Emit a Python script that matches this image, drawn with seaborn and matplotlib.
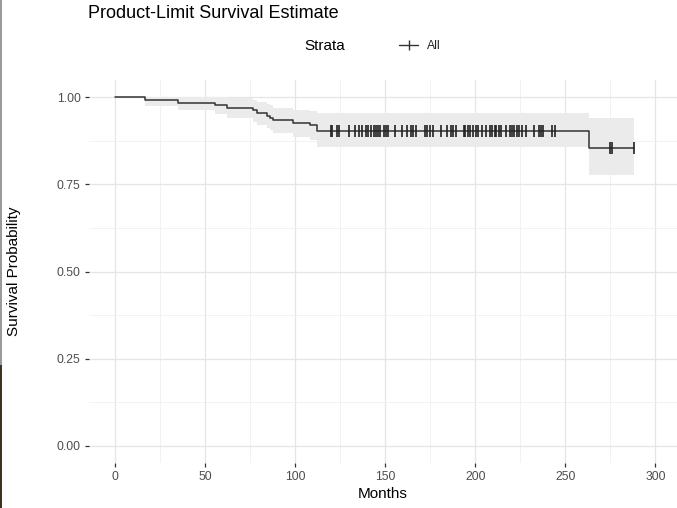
import numpy as np
import matplotlib
matplotlib.use("Agg")
import matplotlib.pyplot as plt
from matplotlib.lines import Line2D
from matplotlib.patches import Rectangle
import seaborn as sns

# Kaplan-Meier steps (months, estimate, lower CI, upper CI)
event_months = [0, 16.7, 34.8, 55.6, 62.0, 76.8, 78.7, 84.3, 86.1, 87.9, 99.0, 108.3, 112.0, 263.0, 288.0]
survival = [1.0, 0.9914, 0.9848, 0.977, 0.970, 0.9626, 0.956, 0.948, 0.942, 0.934, 0.926, 0.920, 0.904, 0.854, 0.854]
lower_ci = [1.0, 0.975, 0.963, 0.952, 0.942, 0.930, 0.922, 0.913, 0.905, 0.897, 0.887, 0.879, 0.857, 0.776, 0.776]
upper_ci = [1.0, 1.0, 1.0, 1.0, 0.998, 0.993, 0.988, 0.982, 0.977, 0.970, 0.965, 0.961, 0.954, 0.940, 0.940]

# censored observations (months)
censored_months = [119.8, 120.5, 123.5, 124.2, 130, 133.3, 135.6, 137.4, 139.1, 140.6, 142, 143.9, 144.8,
                   145.9, 146.9, 149.6, 150.6, 151.5, 155.7, 159.4, 161.9, 164.1, 165.7, 166.9,
                   171.9, 173.1, 175, 176.3, 180.9, 184.4, 186.7, 187.6, 189.3, 193.5, 194.4,
                   196.1, 197, 198.9, 200.4, 201.5, 203.9, 205.9, 208.3, 209.3, 210.9, 211.7,
                   213.3, 214.3, 217, 219.4, 220.4, 221.3, 223.1, 224.1, 225.7, 228.1, 232.8,
                   235.4, 236.5, 237.6, 242.6, 244.4, 275, 276, 288]

x_ticks = [0, 50, 100, 150, 200, 250, 300]
y_ticks = [0.0, 0.25, 0.5, 0.75, 1.0]

sns.set_theme(style="white")
plt.rcParams['font.family'] = ['Liberation Sans', 'DejaVu Sans']

fig = plt.figure(figsize=(6.77, 5.08), dpi=100)
ax = fig.add_axes([89 / 677, 45 / 508, 588 / 677, 383 / 508])

# confidence band
ax.fill_between(event_months, lower_ci, upper_ci, step="post", color="#EBEBEB", lw=0, zorder=2)

# survival curve
sns.lineplot(x=event_months, y=survival, drawstyle="steps-post", color="#333333",
             linewidth=1.1, ax=ax, zorder=3)

# censor marks on the curve
idx = np.searchsorted(event_months, censored_months, side="right") - 1
cens_y = np.array(survival)[idx]
sns.scatterplot(x=censored_months, y=cens_y, marker="|", s=65, color="#222222",
                linewidth=1.2, ax=ax, zorder=4)

ax.set_xlim(-14.4, 312)
ax.set_ylim(-0.05, 1.05)
ax.set_xticks(x_ticks)
ax.set_xticklabels([str(t) for t in x_ticks])
ax.set_yticks(y_ticks)
ax.set_yticklabels([f"{t:.2f}" for t in y_ticks])
ax.set_xticks([25, 75, 125, 175, 225, 275], minor=True)
ax.set_yticks([0.125, 0.375, 0.625, 0.875], minor=True)

ax.grid(True, which="major", color="#E5E5E5", linewidth=0.9, zorder=0)
ax.grid(True, which="minor", color="#F0F0F0", linewidth=0.6, zorder=0)
ax.set_axisbelow(True)
for s in ax.spines.values():
    s.set_visible(False)

ax.tick_params(axis="both", which="major", length=3, width=0.9, color="#333333",
               labelsize=8.7, labelcolor="#4D4D4D", pad=3, bottom=True, left=True)
ax.tick_params(axis="both", which="minor", length=0)

ax.set_xlabel("Months", fontsize=11, color="black", labelpad=3)
ax.set_ylabel("Survival Probability", fontsize=11, color="black", labelpad=26)

fig.text(88 / 677, 1 - 13 / 508, "Product-Limit Survival Estimate", fontsize=13,
         ha="left", va="center", color="black")
fig.text(304 / 677, 1 - 46 / 508, "Strata", fontsize=11, ha="left", va="center", color="black")

handle = Line2D([], [], color="#333333", marker="|", markersize=7, lw=1.0, markeredgewidth=1.0)
ax.legend(handles=[handle], labels=["All"], loc="center left", frameon=False,
          bbox_to_anchor=(388 / 677, 1 - 46 / 508), bbox_transform=fig.transFigure,
          handlelength=1.6, handletextpad=0.7, fontsize=8.7)

# screenshot edge strip on the left
fig.patches.append(Rectangle((0, 143 / 508), 2 / 677, 365 / 508, transform=fig.transFigure,
                             color="#9A9A9A", lw=0))
fig.patches.append(Rectangle((0, 0), 2 / 677, 143 / 508, transform=fig.transFigure,
                             color="#3B3520", lw=0))

fig.savefig("out.png", dpi=100)
